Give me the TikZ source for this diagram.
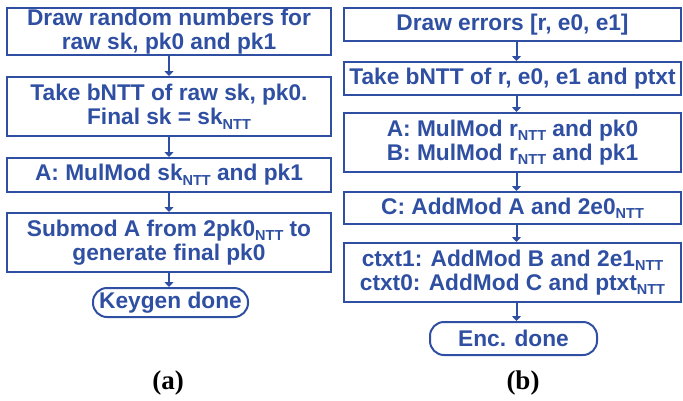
\documentclass[tikz,border=0pt]{standalone}
\usepackage{fontspec}
\setmainfont{Liberation Sans}
\newfontfamily\capfont{Liberation Serif}
\usetikzlibrary{arrows.meta}
\definecolor{fb}{HTML}{2F4FA2}
\newcommand\ntt{\raisebox{-0.35ex}{\fontsize{14.5}{14.5}\selectfont NTT}}
\begin{document}
\begin{tikzpicture}[x=1pt,y=-1pt,
  box/.style={draw=fb, line width=2pt, text=fb, font=\fontsize{22.7}{24.5}\selectfont\bfseries, align=center, inner sep=0pt},
  pill/.style={box, rounded corners=14pt},
  arr/.style={draw=fb, line width=2pt, -{Triangle[length=5pt,width=9pt]}},
  sublabel/.style={font=\capfont\fontsize{27}{30}\selectfont\bfseries, inner sep=0pt}]
\useasboundingbox (0,0) rectangle (683,400);
% (a) key generation
\node[box, minimum width=324pt, minimum height=47pt] (L1) at (169,31.5) {Draw random numbers for\\raw sk, pk0 and pk1};
\node[box, minimum width=324pt, minimum height=59pt] (L2) at (169,106.5) {Take bNTT of raw sk, pk0.\\Final sk = sk\ntt};
\node[box, minimum width=324pt, minimum height=34pt] (L3) at (169,175) {A: MulMod sk\ntt{} and pk1};
\node[box, minimum width=324pt, minimum height=59pt] (L4) at (169,242.5) {Submod A from 2pk0\ntt{} to\\generate final pk0};
\node[pill, minimum width=155pt, minimum height=29pt] (L5) at (170.5,302.5) {Keygen done};
\draw[arr] (L1.south) -- (L2.north);
\draw[arr] (L2.south) -- (L3.north);
\draw[arr] (L3.south) -- (L4.north);
\draw[arr] (L4.south) -- (L4.south |- L5.north);
\node[sublabel] (ca) at (168,383) {(a)};
% (b) encryption
\node[box, minimum width=337pt, minimum height=33pt] (R1) at (512.5,24.5) {Draw errors [r, e0, e1]};
\node[box, minimum width=337pt, minimum height=33pt] (R2) at (512.5,78.5) {Take bNTT of r, e0, e1 and ptxt};
\node[box, minimum width=337pt, minimum height=59pt] (R3) at (512.5,142.5) {A: MulMod r\ntt{} and pk0\\B: MulMod r\ntt{} and pk1};
\node[box, minimum width=337pt, minimum height=32pt] (R4) at (512.5,208) {C: AddMod A and 2e0\ntt};
\node[box, minimum width=337pt, minimum height=59pt] (R5) at (512.5,272.5) {ctxt1: AddMod B and 2e1\ntt\\ctxt0: AddMod C and ptxt\ntt};
\node[pill, minimum width=167pt, minimum height=33pt] (R6) at (513.5,338.5) {Enc. done};
\draw[arr] ([xshift=4pt]R1.south) -- ([xshift=4pt]R2.north);
\draw[arr] ([xshift=4pt]R2.south) -- ([xshift=4pt]R3.north);
\draw[arr] ([xshift=4pt]R3.south) -- ([xshift=4pt]R4.north);
\draw[arr] ([xshift=4pt]R4.south) -- ([xshift=4pt]R5.north);
\draw[arr] ([xshift=4pt]R5.south) -- ([xshift=4pt]R5.south |- R6.north);
\node[sublabel] (cb) at (523,383) {(b)};
\end{tikzpicture}
\end{document}
